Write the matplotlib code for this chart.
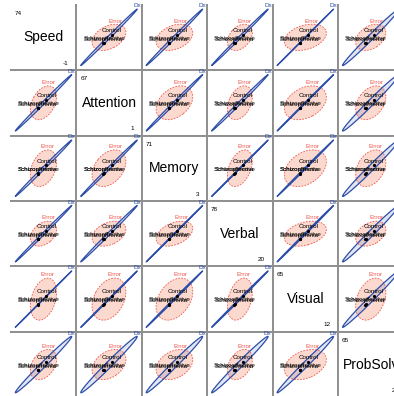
import numpy as np
import matplotlib.pyplot as plt

plt.rcParams['font.family'] = ['Liberation Sans', 'DejaVu Sans']

variables = ["Speed", "Attention", "Memory", "Verbal", "Visual", "ProbSolv"]
range_max = [74, 67, 71, 78, 65, 65]
range_min = [-1, 1, 3, 20, 12, 2]

groups = ["Control", "Schizophrenia", "Schizoaffective"]
control = [49.8, 49.6, 49.2, 49.4, 49.0, 48.6]
schizophrenia = [37.4, 37.4, 36.9, 37.2, 36.6, 36.3]
schizoaffective = [38.3, 38.6, 37.8, 37.9, 37.7, 37.2]
grand_mean = [45.8, 45.4, 44.9, 45.2, 44.6, 44.3]

# Dx (hypothesis) ellipse: half-extent per variable and correlations
h_half = [40.0, 40.0, 40.0, 40.0, 40.0, 40.0]
h_corr = np.array([
    [1.0,    0.9979, 0.9980, 0.9985, 0.9999, 0.9915],
    [0.9979, 1.0,    0.9984, 0.9980, 0.9997, 0.9890],
    [0.9980, 0.9984, 1.0,    0.9998, 0.9994, 0.9900],
    [0.9985, 0.9980, 0.9998, 1.0,    0.9994, 0.9905],
    [0.9999, 0.9997, 0.9994, 0.9994, 1.0,    0.9915],
    [0.9915, 0.9890, 0.9900, 0.9905, 0.9915, 1.0],
])

# Error ellipse: half-extent per variable and correlations
e_half = [18.6, 24.0, 26.0, 17.7, 29.8, 21.4]
e_corr = np.array([
    [1.00, 0.38, 0.33, 0.36, 0.32, 0.36],
    [0.38, 1.00, 0.36, 0.36, 0.33, 0.36],
    [0.33, 0.36, 1.00, 0.40, 0.36, 0.33],
    [0.36, 0.36, 0.40, 1.00, 0.33, 0.36],
    [0.32, 0.33, 0.36, 0.33, 1.00, 0.33],
    [0.36, 0.36, 0.33, 0.36, 0.33, 1.00],
])

H_COL = "#2d4ea8"
E_COL = "#f0554a"
E_FILL = "#fcd9cf"
GRID = "#8f8f8f"


def ellipse_xy(center, half, r, n=240):
    """Outline of the ellipse for a 2x2 covariance given by half-extents and correlation."""
    cov = np.array([[half[0] ** 2, r * half[0] * half[1]],
                    [r * half[0] * half[1], half[1] ** 2]])
    vals, vecs = np.linalg.eigh(cov)
    t = np.linspace(0, 2 * np.pi, n)
    circle = np.vstack([np.cos(t), np.sin(t)])
    pts = vecs @ (np.sqrt(np.clip(vals, 0, None))[:, None] * circle)
    return pts[0] + center[0], pts[1] + center[1]


def label_top(ax, xs, ys, text, color):
    k = np.argmax(ys)
    ax.annotate(text, (xs[k], ys[k]), xytext=(0, 0.5), textcoords="offset points",
                ha="center", va="bottom", fontsize=4.6, color=color)


W, H = 394, 396
x0, y0, cell = 10.8, 4.6, 65.45
n = len(variables)
means = [control, schizophrenia, schizoaffective]

fig = plt.figure(figsize=(W / 100, H / 100), dpi=100)

for i in range(n):
    for j in range(n):
        ax = fig.add_axes([(x0 + j * cell) / W, 1 - (y0 + (i + 1) * cell) / H,
                           cell / W, cell / H])
        ax.set_xticks([])
        ax.set_yticks([])
        for side, show in (("left", j > 0), ("top", i > 0),
                           ("right", j < n - 1), ("bottom", i < n - 1)):
            ax.spines[side].set_visible(show)
            ax.spines[side].set_color(GRID)
            ax.spines[side].set_linewidth(1.4)

        if i == j:
            ax.set_xlim(0, 1)
            ax.set_ylim(0, 1)
            ax.text(0.5, 0.5, variables[i], ha="center", va="center", fontsize=10)
            ax.text(0.06, 0.87, str(range_max[i]), ha="left", va="center", fontsize=4.6)
            ax.text(0.88, 0.105, str(range_min[i]), ha="right", va="center", fontsize=4.6)
            continue

        # x = variable j, y = variable i
        c = (grand_mean[j], grand_mean[i])
        ex, ey = ellipse_xy(c, (e_half[j], e_half[i]), e_corr[i, j])
        hx, hy = ellipse_xy(c, (h_half[j], h_half[i]), h_corr[i, j])

        ax.fill(ex, ey, color=E_FILL, lw=0)
        ax.plot(ex, ey, color=E_COL, lw=0.6, ls=(0, (2.0, 1.6)))
        ax.fill(hx, hy, color=H_COL, alpha=0.14, lw=0)
        ax.plot(hx, hy, color=H_COL, lw=0.9)

        for g, m in zip(groups, means):
            ax.plot(m[j], m[i], "o", color="black", ms=2.3, mew=0)
            ax.annotate(g, (m[j], m[i]), xytext=(0, 1.2), textcoords="offset points",
                        ha="center", va="bottom", fontsize=4.5, color="black")

        label_top(ax, ex, ey, "Error", E_COL)
        label_top(ax, hx, hy, "Dx", H_COL)
        ax.margins(0.08)

fig.savefig("out.png", dpi=100)
